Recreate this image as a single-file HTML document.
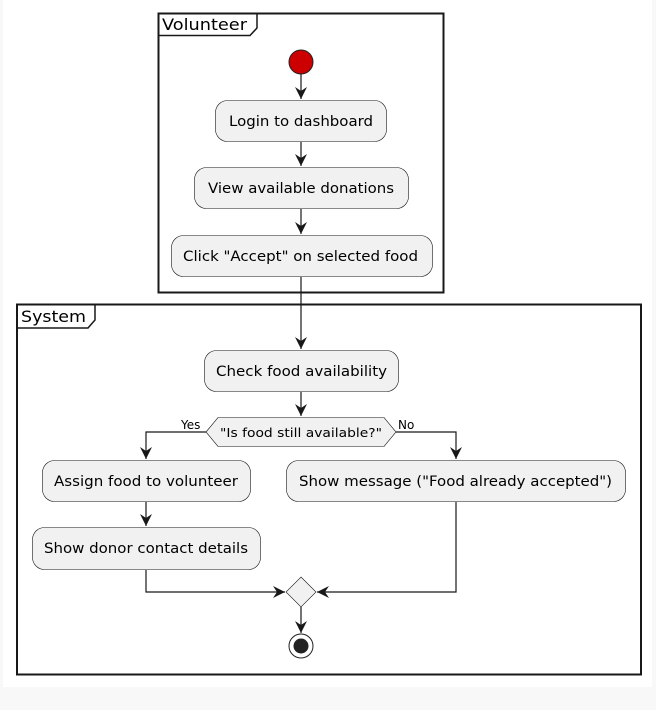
<!DOCTYPE html>
<html><head><style>
html,body{margin:0;padding:0;background:#f8f8f8;}
svg{display:block;}
text{font-family:"DejaVu Sans","Liberation Sans",sans-serif;font-size:14px;fill:#000;}
</style></head><body>
<svg width="656" height="710" viewBox="0 0 656 710" xmlns="http://www.w3.org/2000/svg">
<defs>
<marker id="a" viewBox="0 0 14 14" refX="12" refY="7" markerWidth="14" markerHeight="14" markerUnits="userSpaceOnUse" orient="auto">
<path d="M0,1 L12,7 L0,13 L4,7 Z" fill="#181818"/>
</marker>
</defs>
<rect x="3" y="0" width="649" height="687" fill="#fff"/>
<rect x="158.5" y="13.5" width="285" height="279" fill="none" stroke="#181818" stroke-width="2"/>
<path d="M158.5,35.5 H250 L257,28 V13.5" fill="none" stroke="#181818" stroke-width="1.5"/>
<text x="162" y="30" style="font-size:16px" textLength="85" lengthAdjust="spacingAndGlyphs">Volunteer</text>
<rect x="17" y="304.5" width="624" height="370" fill="none" stroke="#181818" stroke-width="2"/>
<path d="M17,328 H88 L95,320 V304.5" fill="none" stroke="#181818" stroke-width="1.5"/>
<text x="21" y="322" style="font-size:16px" textLength="65" lengthAdjust="spacingAndGlyphs">System</text>

<circle cx="301" cy="62" r="12" fill="#c00" stroke="#222" stroke-width="1"/>
<line x1="301" y1="74" x2="301" y2="99" stroke="#181818" stroke-width="1.2" marker-end="url(#a)"/>
<rect x="215.5" y="100.5" width="171" height="41" rx="12" fill="#f1f1f1" stroke="#181818" stroke-width="0.6"/>
<text x="229" y="126" textLength="144" lengthAdjust="spacingAndGlyphs">Login to dashboard</text>
<line x1="301" y1="142" x2="301" y2="166" stroke="#181818" stroke-width="1.2" marker-end="url(#a)"/>
<rect x="194.5" y="167.5" width="214" height="41" rx="12" fill="#f1f1f1" stroke="#181818" stroke-width="0.6"/>
<text x="208" y="193" textLength="186" lengthAdjust="spacingAndGlyphs">View available donations</text>
<line x1="301" y1="209" x2="301" y2="234" stroke="#181818" stroke-width="1.2" marker-end="url(#a)"/>
<rect x="171.5" y="235.5" width="261" height="41" rx="12" fill="#f1f1f1" stroke="#181818" stroke-width="0.6"/>
<text x="183" y="261" textLength="235" lengthAdjust="spacingAndGlyphs">Click "Accept" on selected food</text>
<line x1="301" y1="277" x2="301" y2="349" stroke="#181818" stroke-width="1.2" marker-end="url(#a)"/>
<rect x="204.5" y="350.5" width="194" height="41" rx="12" fill="#f1f1f1" stroke="#181818" stroke-width="0.6"/>
<text x="216" y="376" textLength="171" lengthAdjust="spacingAndGlyphs">Check food availability</text>
<line x1="301" y1="392" x2="301" y2="416" stroke="#181818" stroke-width="1.2" marker-end="url(#a)"/>
<polygon points="206,432 218,417.5 384,417.5 396,432 384,446.5 218,446.5" fill="#f1f1f1" stroke="#181818" stroke-width="0.6"/>
<text x="220" y="437" style="font-size:12px" textLength="162" lengthAdjust="spacingAndGlyphs">"Is food still available?"</text>
<text x="181" y="429" style="font-size:12px">Yes</text>
<text x="398" y="429" style="font-size:12px">No</text>
<polyline points="206,432 146,432 146,459" fill="none" stroke="#181818" stroke-width="1.2" marker-end="url(#a)"/>
<polyline points="396,432 456,432 456,459" fill="none" stroke="#181818" stroke-width="1.2" marker-end="url(#a)"/>
<rect x="42.5" y="460.5" width="208" height="41" rx="12" fill="#f1f1f1" stroke="#181818" stroke-width="0.6"/>
<text x="54" y="486" textLength="184" lengthAdjust="spacingAndGlyphs">Assign food to volunteer</text>
<rect x="286.5" y="460.5" width="339" height="41" rx="12" fill="#f1f1f1" stroke="#181818" stroke-width="0.6"/>
<text x="299" y="486" textLength="313" lengthAdjust="spacingAndGlyphs">Show message ("Food already accepted")</text>
<line x1="146" y1="502" x2="146" y2="526" stroke="#181818" stroke-width="1.2" marker-end="url(#a)"/>
<rect x="32.5" y="527.5" width="228" height="42" rx="12" fill="#f1f1f1" stroke="#181818" stroke-width="0.6"/>
<text x="44" y="553" textLength="204" lengthAdjust="spacingAndGlyphs">Show donor contact details</text>
<polyline points="146,570 146,592 285,592" fill="none" stroke="#181818" stroke-width="1.2" marker-end="url(#a)"/>
<polyline points="456,502 456,592 317,592" fill="none" stroke="#181818" stroke-width="1.2" marker-end="url(#a)"/>
<polygon points="301,577 316,592 301,607 286,592" fill="#f1f1f1" stroke="#181818" stroke-width="0.6"/>
<line x1="301" y1="607" x2="301" y2="633" stroke="#181818" stroke-width="1.2" marker-end="url(#a)"/>
<circle cx="301" cy="646" r="12" fill="#fff" stroke="#222" stroke-width="1"/>
<circle cx="301" cy="646" r="7.5" fill="#222"/>
</svg>
</body></html>
